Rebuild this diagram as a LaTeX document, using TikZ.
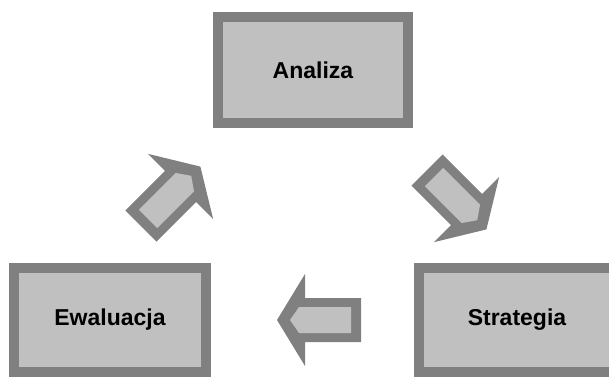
\documentclass[tikz,border=0pt]{standalone}
\usepackage{fontspec}
\setmainfont{Liberation Sans}
\definecolor{darkgr}{HTML}{808080}
\definecolor{lightgr}{HTML}{C0C0C0}
\tikzset{
  stagebox/.style={draw=darkgr, fill=lightgr, line width=10pt, inner sep=0pt,
    minimum width=190pt, minimum height=104pt,
    font=\fontsize{23}{26}\selectfont\bfseries, text=black},
  blockarrow/.pic={
    \fill[darkgr] (0,-22)--(56,-22)--(56,-46)--(84,0)--(56,46)--(56,22)--(0,22)--cycle;
    \fill[lightgr] (10,-13)--(62,-13)--(71,0)--(62,13)--(10,13)--cycle;
  }
}
\begin{document}
\begin{tikzpicture}[x=1pt,y=-1pt]
  \useasboundingbox (0,0) rectangle (609,378);
  \fill[white] (0,0) rectangle (609,378);
  \clip (0,0) rectangle (609,378);
  \node[stagebox, minimum height=106pt] (analiza) at (313,70) {Analiza};
  \node[stagebox, minimum width=192pt] (ewaluacja) at (110,320) {Ewaluacja};
  \node[stagebox, minimum width=196pt] (strategia) at (517,320) {Strategia};
  \pic[rotate=45] at (141,226) {blockarrow};
  \pic[rotate=-45] at (427,170) {blockarrow};
  \pic[rotate=180] at (361,320) {blockarrow};
\end{tikzpicture}
\end{document}
